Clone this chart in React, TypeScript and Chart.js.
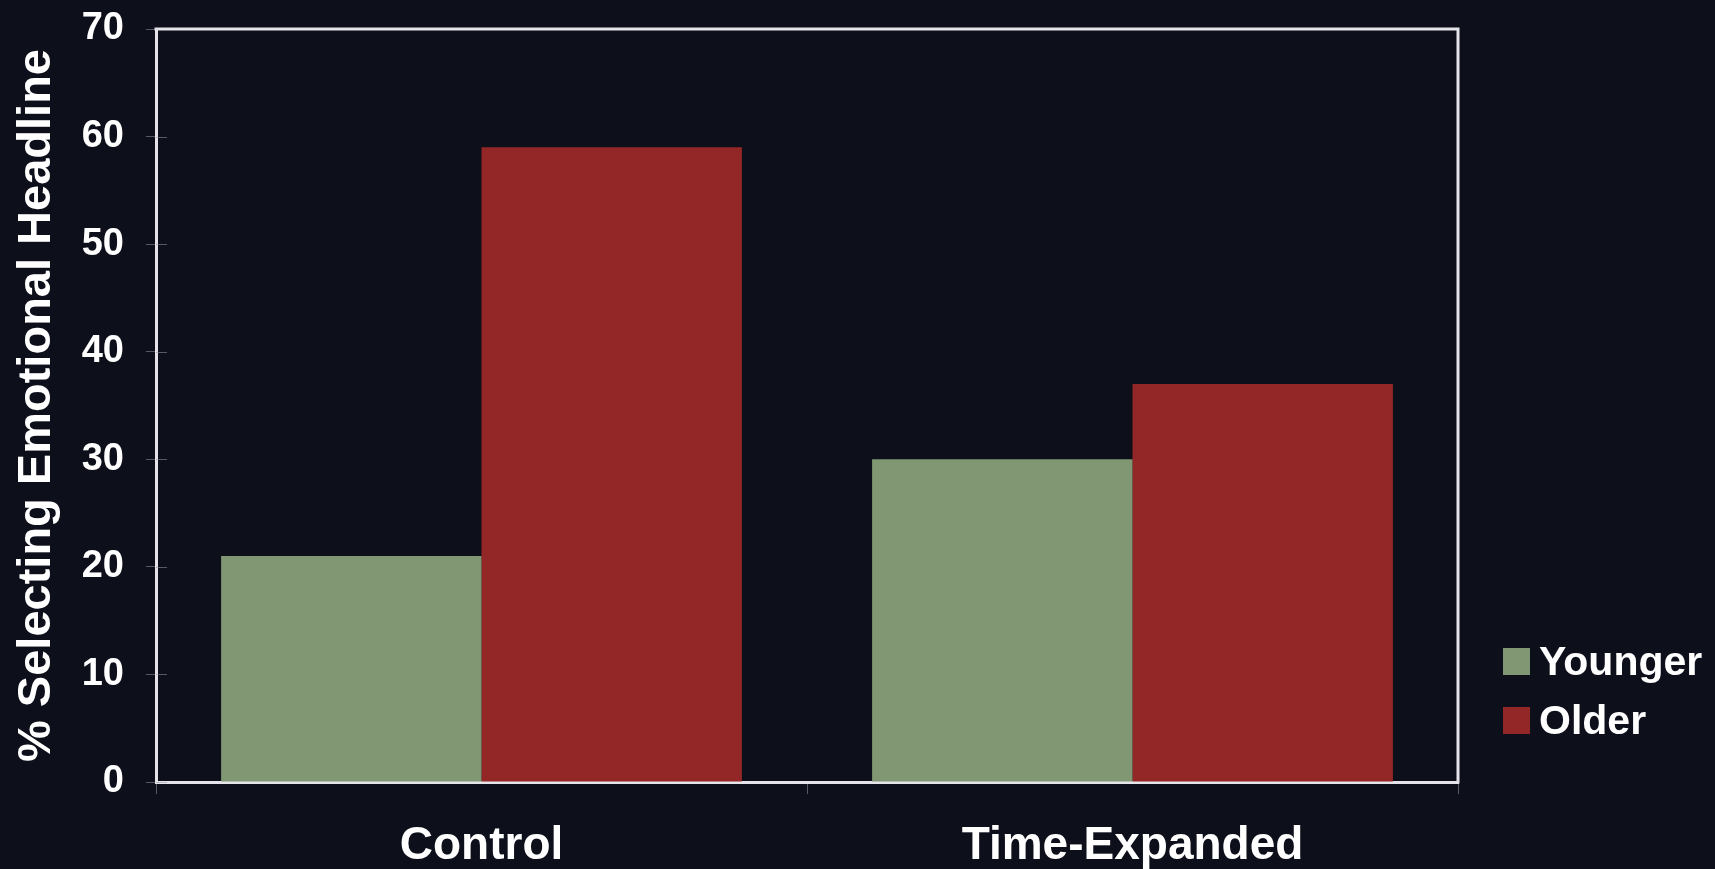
import React, { useEffect, useRef } from "react";
import { Chart, registerables } from "chart.js";

Chart.register(...registerables);

// Chart data
const categories = ["Control", "Time-Expanded"];
const seriesNames = ["Younger", "Older"];
const youngerValues = [21, 30];
const olderValues = [59, 37];
const yTickStep = 10;
const yMax = 70;
const yTitle = "% Selecting Emotional Headline";

// Look
const BG = "#0d0f1b";
const GREEN = "#819773";
const RED = "#932727";
const FRAME = "#e4e4ea";
const TICK = "rgba(150,152,165,0.55)";
const FONT = "'Liberation Sans', Arial, Helvetica, sans-serif";
const seriesColors = [GREEN, RED];

// Closes the plot box (top and right edges) and draws the inner half of the y tick marks.
const framePlugin = {
  id: "plotFrame",
  afterDraw(chart: any) {
    const { ctx, chartArea } = chart;
    const { left, right, top, bottom } = chartArea;
    ctx.save();
    const yScale = chart.scales.y;
    ctx.strokeStyle = TICK;
    ctx.lineWidth = 1;
    yScale.ticks.forEach((_t: any, i: number) => {
      const y = Math.round(yScale.getPixelForTick(i)) + 0.5;
      ctx.beginPath();
      ctx.moveTo(left, y);
      ctx.lineTo(left + 11, y);
      ctx.stroke();
    });
    ctx.strokeStyle = FRAME;
    ctx.lineWidth = 3;
    ctx.beginPath();
    ctx.moveTo(left - 1.5, top);
    ctx.lineTo(right, top);
    ctx.lineTo(right, bottom + 1.5);
    ctx.stroke();
    ctx.restore();
  },
};

export default function App() {
  const canvasRef = useRef<HTMLCanvasElement | null>(null);

  useEffect(() => {
    const canvas = canvasRef.current;
    if (!canvas) return;
    const chart = new Chart(canvas, {
      type: "bar",
      data: {
        labels: categories,
        datasets: [
          {
            label: seriesNames[0],
            data: youngerValues,
            backgroundColor: GREEN,
            borderWidth: 0,
            categoryPercentage: 0.8,
            barPercentage: 1.0,
          },
          {
            label: seriesNames[1],
            data: olderValues,
            backgroundColor: RED,
            borderWidth: 0,
            categoryPercentage: 0.8,
            barPercentage: 1.0,
          },
        ],
      },
      options: {
        responsive: false,
        animation: false,
        layout: { padding: { left: 10, top: 29, right: 257, bottom: 0 } },
        plugins: {
          legend: { display: false },
          tooltip: { enabled: false },
        },
        scales: {
          x: {
            grid: {
              display: true,
              drawOnChartArea: false,
              offset: true,
              tickLength: 12,
              color: TICK,
            },
            border: { display: true, color: FRAME, width: 3 },
            ticks: {
              color: "#ffffff",
              padding: 29,
              font: { family: FONT, size: 46, weight: "bold", lineHeight: 1 },
            },
            afterFit: (scale: any) => {
              scale.height = 87;
            },
          },
          y: {
            min: 0,
            max: yMax,
            ticks: {
              stepSize: yTickStep,
              color: "#ffffff",
              padding: 22,
              font: { family: FONT, size: 38, weight: "bold", lineHeight: 0.3 },
            },
            grid: {
              display: true,
              drawOnChartArea: false,
              tickLength: 10,
              color: TICK,
            },
            border: { display: true, color: FRAME, width: 3 },
            title: {
              display: true,
              text: yTitle,
              color: "#ffffff",
              padding: { top: 0, bottom: 0 },
              font: { family: FONT, size: 47, weight: "bold", lineHeight: 1.17 },
            },
            afterFit: (scale: any) => {
              scale.width = 146;
            },
          },
        },
      },
      plugins: [framePlugin],
    });
    return () => chart.destroy();
  }, []);

  return (
    <div
      style={{
        position: "fixed",
        left: 0,
        top: 0,
        width: 1715,
        height: 869,
        background: BG,
        overflow: "hidden",
      }}
    >
      <canvas ref={canvasRef} width={1715} height={869} style={{ display: "block" }} />
      <div
        style={{
          position: "absolute",
          left: 1503,
          top: 641,
          display: "flex",
          flexDirection: "column",
          gap: 18,
          fontFamily: FONT,
          fontWeight: "bold",
          fontSize: 41,
          lineHeight: 1,
          color: "#ffffff",
        }}
      >
        {seriesNames.map((name, i) => (
          <div key={name} style={{ display: "flex", alignItems: "center", height: 41 }}>
            <span
              style={{
                display: "inline-block",
                width: 27,
                height: 27,
                background: seriesColors[i],
                marginRight: 9,
              }}
            />
            <span>{name}</span>
          </div>
        ))}
      </div>
    </div>
  );
}
